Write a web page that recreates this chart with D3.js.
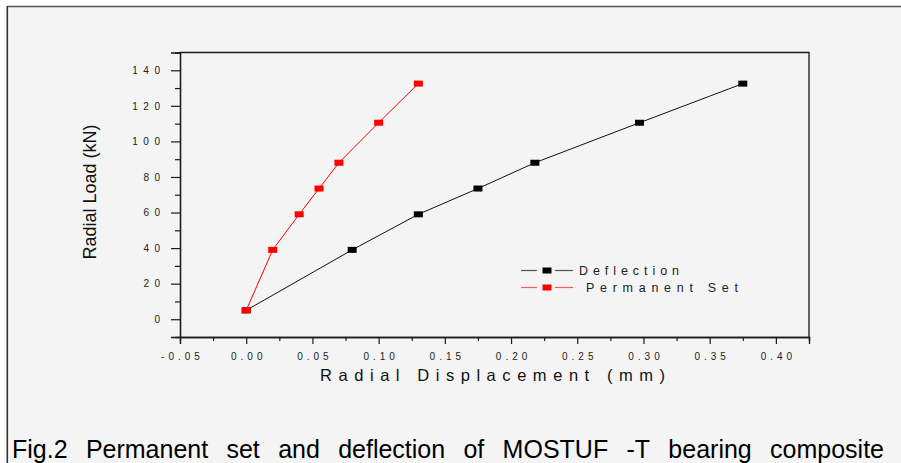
<!DOCTYPE html>
<html><head><meta charset="utf-8">
<script src="https://cdn.jsdelivr.net/npm/d3@7"></script>
<style>
html,body{margin:0;padding:0;background:#fff;}
svg{display:block;font-family:"Liberation Sans",Arial,sans-serif;}
</style></head>
<body>
<svg id="c" width="901" height="463"></svg>
<script>
// ---- data ----
const deflectionX = [0.00, 0.08, 0.13, 0.175, 0.218, 0.297, 0.375];
const deflectionY = [5, 39, 59, 73.5, 88, 110.5, 132.5];
const permSetX = [0.00, 0.02, 0.04, 0.055, 0.07, 0.10, 0.13];
const permSetY = [5, 39, 59, 73.5, 88, 110.5, 132.5];
const xTicks = [-0.05, 0.00, 0.05, 0.10, 0.15, 0.20, 0.25, 0.30, 0.35, 0.40];
const xTickLabels = ["-0.05","0.00","0.05","0.10","0.15","0.20","0.25","0.30","0.35","0.40"];
const xMinor = [-0.025, 0.025, 0.075, 0.125, 0.175, 0.225, 0.275, 0.325, 0.375, 0.425];
const yTicks = [0, 20, 40, 60, 80, 100, 120, 140];
const yMinor = [10, 30, 50, 70, 90, 110, 130];
const seriesNames = ["Deflection", "Permanent Set"];
const caption = "Fig.2 Permanent set and deflection of MOSTUF -T bearing composite";

const svg = d3.select("#c");
// background frame
svg.append("rect").attr("x",7).attr("y",6.5).attr("width",894).attr("height",457).attr("fill","#f4f4f4");
svg.append("line").attr("x1",7).attr("x2",901).attr("y1",6.5).attr("y2",6.5).attr("stroke","#555").attr("stroke-width",1.6);
svg.append("line").attr("x1",7.3).attr("x2",7.3).attr("y1",6).attr("y2",463).attr("stroke","#333").attr("stroke-width",1.6);

const L=180, R=809, T=52.5, B=337;
const x = d3.scaleLinear().domain([-0.05, 0.425]).range([L, R]);
const y = d3.scaleLinear().domain([-10, 150]).range([B, T]);

const axisCol = "#1a1a1a";
// box (top and right)
svg.append("path").attr("d",`M${L},${T}H${R}V${B}`).attr("fill","none").attr("stroke",axisCol).attr("stroke-width",1.3);

// axes via d3
const xAxis = svg.append("g").attr("transform",`translate(0,${B})`)
  .call(d3.axisBottom(x).tickValues(xTicks).tickSize(7).tickFormat((d,i)=>xTickLabels[i]).tickPadding(9));
const xAxisMinor = svg.append("g").attr("transform",`translate(0,${B})`)
  .call(d3.axisBottom(x).tickValues(xMinor).tickSize(4).tickFormat(""));
const yAxis = svg.append("g").attr("transform",`translate(${L},0)`)
  .call(d3.axisLeft(y).tickValues(yTicks).tickSize(9).tickFormat(d3.format("d")).tickPadding(11));
const yAxisMinor = svg.append("g").attr("transform",`translate(${L},0)`)
  .call(d3.axisLeft(y).tickValues(yMinor).tickSize(5).tickFormat(""));
[xAxis,xAxisMinor,yAxis,yAxisMinor].forEach(g=>{
  g.selectAll(".domain").attr("stroke",axisCol).attr("stroke-width",1.3);
  g.selectAll(".tick line").attr("stroke",axisCol).attr("stroke-width",1.2);
});
xAxis.selectAll(".tick text").attr("font-size",10).attr("fill","#222")
  .attr("font-family","'Liberation Sans',Arial,sans-serif")
  .style("letter-spacing","4px").attr("dx","2px");
yAxis.selectAll(".tick text").attr("font-size",10).attr("fill","#222")
  .attr("font-family","'Liberation Sans',Arial,sans-serif")
  .style("letter-spacing","5.5px").attr("dx","5.5px");

// series
const defl = deflectionX.map((v,i)=>[v, deflectionY[i]]);
const perm = permSetX.map((v,i)=>[v, permSetY[i]]);
const line = d3.line().x(d=>x(d[0])).y(d=>y(d[1]));
svg.append("path").datum(defl).attr("d",line).attr("fill","none").attr("stroke","#111").attr("stroke-width",1);
svg.append("g").selectAll("rect").data(defl).join("rect")
  .attr("x",d=>x(d[0])-4.5).attr("y",d=>y(d[1])-3).attr("width",9).attr("height",6).attr("fill","#000");
svg.append("path").datum(perm).attr("d",line).attr("fill","none").attr("stroke","#ff0000").attr("stroke-width",1);
svg.append("g").selectAll("rect").data(perm).join("rect")
  .attr("x",d=>x(d[0])-4.5).attr("y",d=>y(d[1])-3).attr("width",9).attr("height",6).attr("fill","#ff0000");

// legend
const leg = [
  {name:seriesNames[0], line:"#555", mark:"#000", y:270.5, tx:579, tw:100},
  {name:seriesNames[1], line:"#ff5a5a", mark:"#ff0000", y:287.5, tx:586, tw:152}
];
leg.forEach(l=>{
  svg.append("line").attr("x1",521).attr("x2",537).attr("y1",l.y).attr("y2",l.y).attr("stroke",l.line).attr("stroke-width",1.2);
  svg.append("line").attr("x1",555).attr("x2",573).attr("y1",l.y).attr("y2",l.y).attr("stroke",l.line).attr("stroke-width",1.2);
  svg.append("rect").attr("x",542.5).attr("y",l.y-3).attr("width",9).attr("height",6).attr("fill",l.mark);
  svg.append("text").attr("x",l.tx).attr("y",l.y+4.3).attr("font-size",12.5).attr("fill","#222")
    .attr("textLength",l.tw).attr("lengthAdjust","spacing").text(l.name);
});

// axis titles
svg.append("text").attr("x",320).attr("y",381).attr("font-size",16.5).attr("fill","#111")
  .attr("textLength",345).attr("lengthAdjust","spacing").text("Radial Displacement (mm)");
svg.append("text").attr("transform","translate(96,192) rotate(-90)").attr("text-anchor","middle")
  .attr("font-size",18).attr("fill","#111").text("Radial Load (kN)");

// caption, justified
const words = caption.split(" ");
const cg = svg.append("g");
const wEls = words.map(w=>cg.append("text").attr("y",457.5).attr("font-size",25).attr("fill","#000").text(w));
const widths = wEls.map(e=>e.node().getComputedTextLength());
const total = d3.sum(widths);
const x0 = 12, x1 = 884;
const gap = (x1-x0-total)/(words.length-1);
let cx = x0;
wEls.forEach((e,i)=>{ e.attr("x",cx); cx += widths[i]+gap; });
</script>
</body></html>
